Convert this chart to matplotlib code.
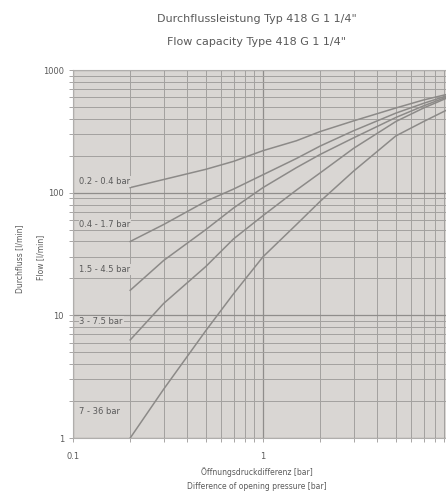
import matplotlib
matplotlib.use("Agg")
import matplotlib.pyplot as plt
from matplotlib.ticker import LogLocator, NullFormatter, FixedLocator, FixedFormatter

# ---- data -------------------------------------------------------------------
dp = [0.2, 0.3, 0.5, 0.7, 1, 1.5, 2, 3, 5, 7, 10]

flow_02_04 = [110, 128, 155, 180, 220, 265, 315, 385, 490, 570, 650]
flow_04_17 = [40, 55, 85, 107, 140, 190, 240, 320, 445, 535, 640]
flow_15_45 = [16, 28, 50, 75, 110, 160, 205, 280, 410, 510, 630]
flow_3_75 = [6.3, 12.5, 25, 42, 65, 105, 145, 230, 380, 490, 620]
flow_7_36 = [1, 2.5, 7.5, 15, 30, 55, 85, 150, 290, 380, 500]

curves = [flow_02_04, flow_04_17, flow_15_45, flow_3_75, flow_7_36]
labels = ["0.2 - 0.4 bar", "0.4 - 1.7 bar", "1.5 - 4.5 bar", "3 - 7.5 bar", "7 - 36 bar"]
label_y = [123, 55, 23.5, 8.9, 1.66]

xticks = [0.1, 1, 10]
xtick_labels = ["0.1", "1", "10"]
yticks = [1, 10, 100, 1000]
ytick_labels = ["1", "10", "100", "1000"]

TXT = "#5a5a5a"
BG = "#d9d6d3"

fig = plt.figure(figsize=(4.46, 4.93), dpi=100)
ax = fig.add_axes([73 / 446, 55 / 493, 380 / 446, 368 / 493])
ax.set_facecolor(BG)

for y in curves:
    ax.plot(dp, y, color="#8c8a88", lw=1.1, zorder=3)
for lab, ly in zip(labels, label_y):
    ax.text(0.108, ly, lab, fontsize=6, color=TXT, va="center", ha="left",
            zorder=4, bbox=dict(fc=BG, ec="none", pad=0.6))

ax.set_xscale("log")
ax.set_yscale("log")
ax.set_xlim(0.1, 10)
ax.set_ylim(1, 1000)

ax.xaxis.set_major_locator(FixedLocator(xticks))
ax.xaxis.set_major_formatter(FixedFormatter(xtick_labels))
ax.yaxis.set_major_locator(FixedLocator(yticks))
ax.yaxis.set_major_formatter(FixedFormatter(ytick_labels))
ax.xaxis.set_minor_locator(LogLocator(base=10, subs=range(2, 10)))
ax.yaxis.set_minor_locator(LogLocator(base=10, subs=range(2, 10)))
ax.xaxis.set_minor_formatter(NullFormatter())
ax.yaxis.set_minor_formatter(NullFormatter())

ax.grid(which="major", color="#8f8d8b", lw=0.9, zorder=1)
ax.grid(which="minor", color="#a3a19f", lw=0.7, zorder=1)
ax.set_axisbelow(True)
for s in ax.spines.values():
    s.set_color("#b0aeac")
    s.set_linewidth(0.8)
ax.tick_params(which="both", colors="#9a9896", labelcolor=TXT, labelsize=6,
               length=3, width=0.6)
ax.tick_params(axis="x", pad=7)

fig.text(0.575, 0.962, "Durchflussleistung Typ 418 G 1 1/4\"", ha="center",
         va="center", fontsize=8, color=TXT)
fig.text(0.575, 0.915, "Flow capacity Type 418 G 1 1/4\"", ha="center",
         va="center", fontsize=8, color=TXT)

fig.text(0.045, 0.475, "Durchfluss [l/min]", rotation=90, ha="center",
         va="center", fontsize=5.5, color=TXT)
fig.text(0.09, 0.478, "Flow [l/min]", rotation=90, ha="center",
         va="center", fontsize=5.5, color=TXT)

fig.text(0.575, 0.043, "Öffnungsdruckdifferenz [bar]", ha="center",
         va="center", fontsize=5.5, color=TXT)
fig.text(0.575, 0.013, "Difference of opening pressure [bar]", ha="center",
         va="center", fontsize=5.5, color=TXT)

fig.savefig("out.png", dpi=100)
